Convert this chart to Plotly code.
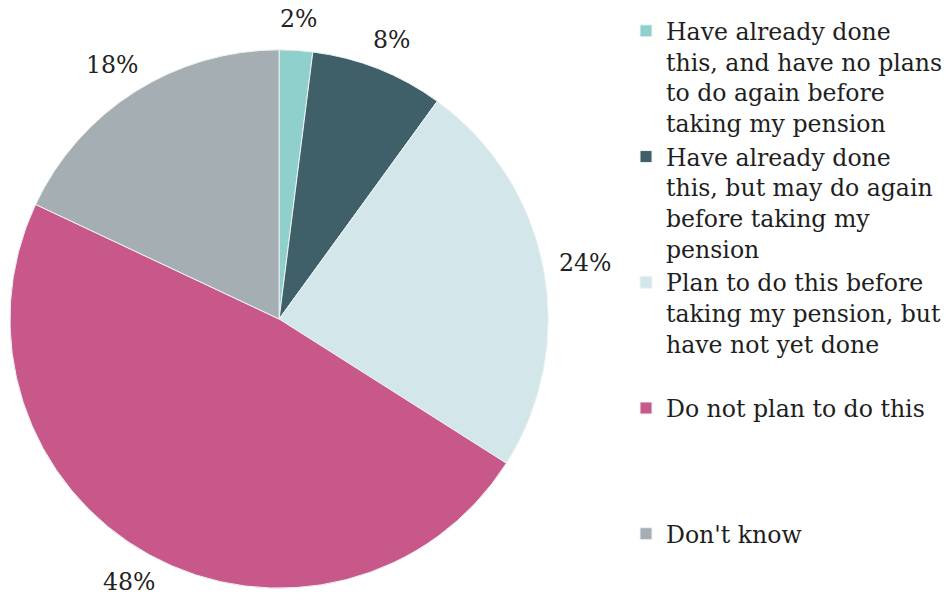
import math
import plotly.graph_objects as go

# Survey responses (share of respondents, %)
labels = [
    "Have already done<br>this, and have no plans<br>to do again before<br>taking my pension",
    "Have already done<br>this, but may do again<br>before taking my<br>pension",
    "Plan to do this before<br>taking my pension, but<br>have not yet done<br> ",
    "Do not plan to do this<br> <br> <br> ",
    "Don't know",
]
values = [2, 8, 24, 48, 18]
colors = ["#8fcfcc", "#3f5f69", "#d3e7ea", "#c8578a", "#a5aeb2"]

W, H = 948, 601
FONT = "DejaVu Serif"
FS = 23.6

# pie placement in pixels
X0, X1, Y0, Y1 = 10, 550, 48, 590
CX, CY = (X0 + X1) / 2, (Y0 + Y1) / 2
R = min(X1 - X0, Y1 - Y0) / 2

fig = go.Figure(
    go.Pie(
        labels=labels,
        values=values,
        sort=False,
        direction="clockwise",
        rotation=0,
        marker=dict(colors=colors, line=dict(color="#eef3f4", width=1)),
        textinfo="none",
        automargin=False,
        hoverinfo="label+percent",
        domain=dict(x=[X0 / W, X1 / W], y=[1 - Y1 / H, 1 - Y0 / H]),
    )
)

# percentage labels just outside each slice, centred on its mid-angle
total = sum(values)
cum = 0
for v in values:
    mid = 2 * math.pi * (cum + v / 2) / total
    cum += v
    s, c = math.sin(mid), math.cos(mid)
    txt = f"{v}%"
    w = FS * (0.636 * (len(txt) - 1) + 0.95)
    h = FS * 1.2
    r = R * 1.06
    px = CX + r * s + (w / 2) * s
    py = CY - r * c - (h / 2) * c
    fig.add_annotation(
        x=px / W, y=1 - py / H, xref="paper", yref="paper",
        text=txt, showarrow=False, xanchor="center", yanchor="middle",
        font=dict(family=FONT, size=FS, color="#222222"),
    )

fig.update_layout(
    width=W,
    height=H,
    margin=dict(l=0, r=0, t=0, b=0),
    paper_bgcolor="white",
    plot_bgcolor="white",
    showlegend=True,
    legend=dict(
        x=628 / W,
        xanchor="left",
        y=1 - 9 / H,
        yanchor="top",
        valign="top",
        font=dict(family=FONT, size=FS, color="#1e1e1e"),
        bgcolor="rgba(0,0,0,0)",
        borderwidth=0,
        tracegroupgap=0,
    ),
)

fig.write_html("out.html")
